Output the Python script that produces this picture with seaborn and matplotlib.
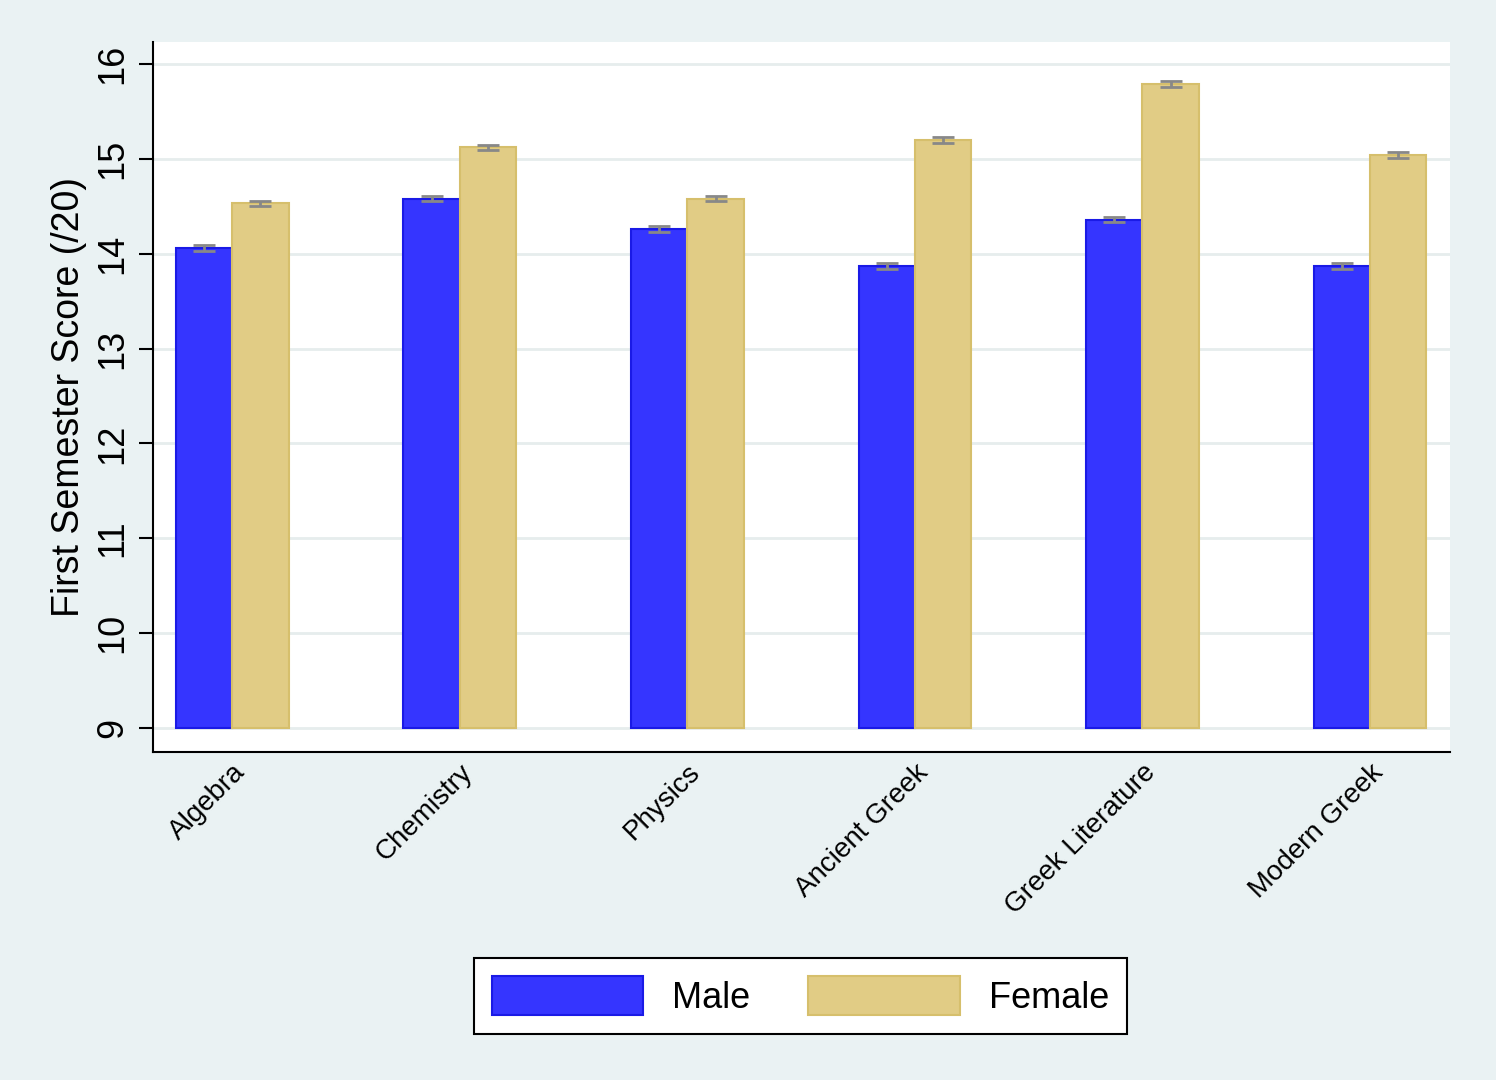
import numpy as np
import pandas as pd
import matplotlib
matplotlib.use("Agg")
import matplotlib.pyplot as plt
import seaborn as sns
from matplotlib.patches import Patch

subjects = ['Algebra', 'Chemistry', 'Physics', 'Ancient Greek', 'Greek Literature', 'Modern Greek']
male = [14.06, 14.58, 14.26, 13.87, 14.36, 13.87]
female = [14.53, 15.12, 14.58, 15.20, 15.79, 15.04]
male_err = [0.03, 0.03, 0.03, 0.03, 0.03, 0.03]
female_err = [0.03, 0.03, 0.03, 0.03, 0.03, 0.03]

df = pd.DataFrame({
    'subject': subjects * 2,
    'score': male + female,
    'sex': ['Male'] * 6 + ['Female'] * 6,
})

sns.set_style("white")
plt.rcParams['font.family'] = ['Liberation Sans', 'DejaVu Sans']
plt.rcParams['text.color'] = 'black'
plt.rcParams['axes.labelcolor'] = 'black'
plt.rcParams['xtick.color'] = 'black'
plt.rcParams['ytick.color'] = 'black'

fig = plt.figure(figsize=(14.96, 10.8), dpi=100, facecolor='#eaf2f3')
ax = fig.add_axes([0.102, 0.304, 0.867, 0.657])
ax.set_facecolor('white')

colors = {'Male': '#3535ff', 'Female': '#e1cc85'}
edges = {'Male': '#1a1ae6', 'Female': '#d6bf6c'}
sns.barplot(data=df, x='subject', y='score', hue='sex', palette=colors, saturation=1,
            width=0.495, errorbar=None, ax=ax, legend=False, zorder=3)

# bars start at 9 (Stata-style base)
for p, s in zip(ax.patches, ['Male'] * 6 + ['Female'] * 6):
    h = p.get_height()
    p.set_y(9)
    p.set_height(h - 9)
    p.set_edgecolor(edges[s])
    p.set_linewidth(1.5)

x = np.arange(len(subjects))
ax.errorbar(x - 0.124, male, yerr=male_err, fmt='none', ecolor='#888888',
            capsize=8, elinewidth=2, capthick=2, zorder=4)
ax.errorbar(x + 0.124, female, yerr=female_err, fmt='none', ecolor='#888888',
            capsize=8, elinewidth=2, capthick=2, zorder=4)

ax.set_xlim(-0.35, 5.35)
ax.set_ylim(8.75, 16.23)
ax.set_yticks(range(9, 17))
ax.yaxis.grid(True, color='#e6eded', linewidth=2)
ax.set_axisbelow(True)
for s in ['top', 'right']:
    ax.spines[s].set_visible(False)
for s in ['left', 'bottom']:
    ax.spines[s].set_color('black')
    ax.spines[s].set_linewidth(1.5)
ax.tick_params(axis='y', labelsize=26, length=10, width=1.5, left=True, pad=6)
for t in ax.get_yticklabels():
    t.set_rotation(90)
    t.set_va('center')
ax.tick_params(axis='x', labelsize=20, bottom=False, pad=2)
plt.setp(ax.get_xticklabels(), rotation=45, ha='right', rotation_mode='anchor')
ax.set_xlabel('')
ax.set_ylabel('First Semester Score (/20)', fontsize=27, labelpad=6)

handles = [Patch(facecolor=colors[k], edgecolor=edges[k], linewidth=1.5) for k in ['Male', 'Female']]
leg = fig.legend(handles, ['Male', 'Female'], loc='center', bbox_to_anchor=(0.535, 0.078),
                 ncol=2, fontsize=26, frameon=True, fancybox=False, edgecolor='black',
                 facecolor='white', framealpha=1,
                 handlelength=4.2, handleheight=1.3, columnspacing=1.6, borderpad=0.5,
                 handletextpad=0.8)
leg.get_frame().set_linewidth(1.5)

fig.savefig('out.png', dpi=100, facecolor=fig.get_facecolor())
